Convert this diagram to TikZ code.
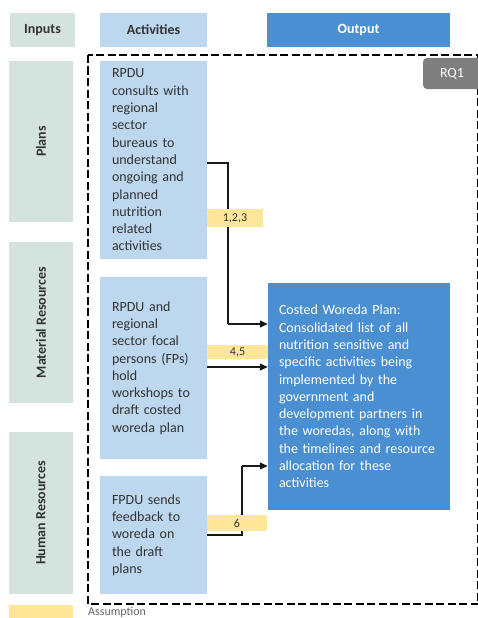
\documentclass[tikz,border=0pt]{standalone}
\usepackage{fontspec}
\setmainfont{Carlito}
\usetikzlibrary{arrows.meta}

\definecolor{inputfill}{HTML}{D5E3DE}
\definecolor{actfill}{HTML}{BDD7EE}
\definecolor{outfill}{HTML}{4A8FD2}
\definecolor{assumfill}{HTML}{FFE699}
\definecolor{bodytext}{HTML}{333333}
\definecolor{tabgray}{HTML}{7F7F7F}

\tikzset{
  header/.style={minimum width=#1, minimum height=34pt, inner sep=0pt,
    font=\fontsize{14}{17}\selectfont\bfseries},
  inputbox/.style={fill=inputfill, minimum width=64pt, inner sep=0pt,
    font=\fontsize{14}{17}\selectfont\bfseries, text=bodytext},
  actbox/.style={fill=actfill, minimum width=107pt, text width=83pt,
    inner xsep=12pt, inner ysep=0pt, align=left, text=bodytext,
    font=\fontsize{14}{17.3}\selectfont},
  outbox/.style={fill=outfill, minimum width=182pt, text width=160pt,
    inner xsep=11pt, inner ysep=0pt, align=left, text=white,
    font=\fontsize{14}{17.3}\selectfont},
  assum/.style={fill=assumfill, inner sep=0pt, text=bodytext,
    font=\fontsize{12}{14}\selectfont},
  conn/.style={line width=1.3pt, draw=black!90, -{Triangle[length=8pt,width=7pt]}},
  link/.style={line width=1.3pt, draw=black!90},
}

\begin{document}
\begin{tikzpicture}[x=1pt,y=-1pt]
\useasboundingbox (0,0) rectangle (478,618);
\clip (0,0) rectangle (478,618);

% column headers
\node[header=65pt, fill=inputfill, text=bodytext] (hin) at (42.5,30) {Inputs};
\node[header=107pt, fill=actfill, text=bodytext] (hact) at (153.5,30) {Activities};
\node[header=183pt, fill=outfill, text=white] (hout) at (358.5,30) {Output};

% research question frame
\draw[line width=2.7pt, dash pattern=on 8pt off 3.5pt] (88,55) rectangle (478.5,604);
\node[fill=tabgray, rounded corners=4pt, minimum width=58pt, minimum height=31pt,
  inner sep=0pt, text=white, font=\fontsize{14}{17}\selectfont] (rq) at (452,73.5) {RQ1};

% inputs
\node[inputbox, minimum height=161pt] (plans) at (41,141.5)
  {\rotatebox{90}{Plans}};
\node[inputbox, minimum height=161pt] (mat) at (41,322.5)
  {\rotatebox{90}{Material Resources}};
\node[inputbox, minimum height=162pt] (hum) at (41,513)
  {\rotatebox{90}{Human Resources}};

% activities
\node[actbox, minimum height=198pt] (a1) at (153.5,160)
  {RPDU\\consults with\\regional\\sector\\bureaus to\\understand\\ongoing and\\planned\\nutrition\\related\\activities};
\node[actbox, minimum height=182pt] (a2) at (153.5,368)
  {RPDU and\\regional\\sector focal\\persons (FPs)\\hold\\workshops to\\draft costed\\woreda plan};
\node[actbox, minimum height=118pt] (a3) at (153.5,535)
  {FPDU sends\\feedback to\\woreda on\\the draft\\plans};

% output
\node[outbox, minimum height=227pt] (out) at (359,396.5)
  {Costed Woreda Plan:\\Consolidated list of all\\nutrition sensitive and\\specific activities being\\implemented by the\\government and\\development partners in\\the woredas, along with\\the timelines and resource\\allocation for these\\activities};

% connectors
\coordinate (j1) at (228,324);
\coordinate (j3) at (242,466);
\draw[link] ([yshift=-3pt]a1.east) -| (j1);
\draw[conn] (j1) -- (j1 -| out.west);
\draw[conn] ([yshift=1pt]a2.east) -- ([yshift=1pt]a2.east -| out.west);
\draw[link] (a3.east) -| (j3);
\draw[conn] (j3) -- (j3 -| out.west);

% assumption tags
\node[assum, minimum width=56pt, minimum height=18pt] (s1) at (235,218) {1,2,3};
\node[assum, minimum width=61pt, minimum height=14pt] (s2) at (237.5,352) {4,5};
\node[assum, minimum width=60pt, minimum height=16pt] (s3) at (237,523) {6};

% legend
\node[fill=assumfill, minimum width=64pt, minimum height=14pt, inner sep=0pt] (leg) at (41,612) {};
\node[anchor=base west, inner sep=0pt, text=black!60, font=\fontsize{12}{14}\selectfont] (legt) at (88,615) {Assumption};
\end{tikzpicture}
\end{document}
